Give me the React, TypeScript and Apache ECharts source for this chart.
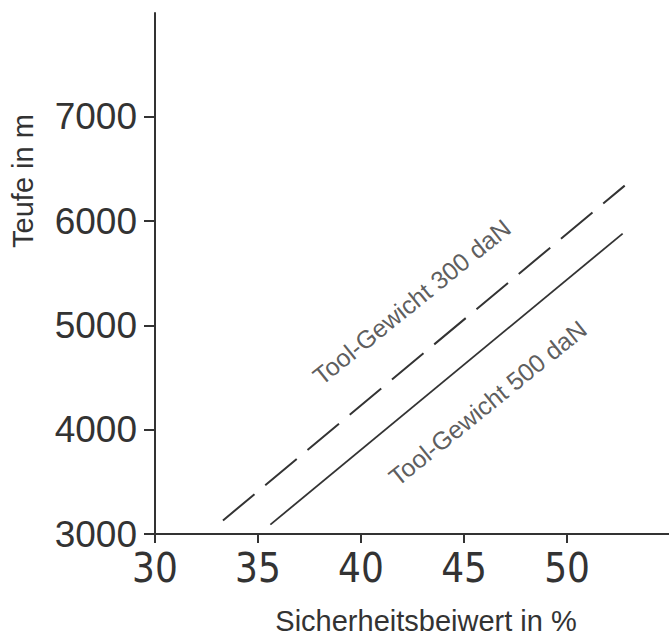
import React, { useEffect, useRef } from "react";
import * as echarts from "echarts";

// ---- data ----
const xTicks = [30, 35, 40, 45, 50];
const yTicks = [3000, 4000, 5000, 6000, 7000];
const seriesNames = ["Tool-Gewicht 300 daN", "Tool-Gewicht 500 daN"];
const line300X = [33.3, 52.8];
const line300Y = [3130, 6340];
const line500X = [35.6, 52.7];
const line500Y = [3090, 5880];
const label300Pos = [42.46, 5226];
const label500Pos = [46.14, 4257];
const xAxisName = "Sicherheitsbeiwert in %";
const yAxisName = "Teufe in m";

const INK = "#333333";

export default function App() {
  const ref = useRef<HTMLDivElement>(null);
  useEffect(() => {
    if (!ref.current) return;
    const chart = echarts.init(ref.current, undefined, { renderer: "svg" });
    const toPts = (xs: number[], ys: number[]) => xs.map((x, i) => [x, ys[i]]);
    chart.setOption({
      animation: false,
      backgroundColor: "#ffffff",
      grid: { left: 155, right: 0, top: 13, bottom: 105, containLabel: false, outerBoundsMode: "none" },
      xAxis: {
        type: "value",
        min: xTicks[0],
        max: 54.95,
        interval: 5,
        splitLine: { show: false },
        axisLine: { onZero: false, lineStyle: { color: INK, width: 2 } },
        axisTick: { show: true, customValues: xTicks, length: 9, lineStyle: { color: INK, width: 2 } },
        axisLabel: {
          margin: 14,
          color: INK,
          fontSize: 40,
          formatter: (v: number) => (xTicks.includes(v) ? String(v) : ""),
          fontFamily: "'Liberation Sans Narrow', 'DejaVu Sans Condensed', sans-serif",
        },
        name: xAxisName,
        nameLocation: "middle",
        nameGap: 72,
        nameMoveOverlap: false,
        nameTextStyle: {
          color: INK,
          fontSize: 29,
          fontFamily: "'Liberation Sans', Arial, sans-serif",
          padding: [0, 0, 0, 28],
        },
      },
      yAxis: {
        type: "value",
        min: yTicks[0],
        max: 7995,
        interval: 1000,
        splitLine: { show: false },
        axisLine: { onZero: false, lineStyle: { color: INK, width: 2 } },
        axisTick: { show: true, customValues: yTicks, length: 11, lineStyle: { color: INK, width: 2 } },
        axisLabel: {
          margin: 18,
          color: INK,
          fontSize: 37,
          formatter: (v: number) => (yTicks.includes(v) ? String(v) : ""),
          fontFamily: "'Liberation Sans', Arial, sans-serif",
        },
      },
      graphic: [
        {
          type: "text",
          x: 23,
          y: 181,
          rotation: Math.PI / 2,
          style: {
            text: yAxisName,
            fill: INK,
            fontSize: 29,
            fontFamily: "'Liberation Sans', Arial, sans-serif",
            align: "center",
            verticalAlign: "middle",
          },
        },
      ],
      series: [
        {
          name: seriesNames[0],
          type: "line",
          showSymbol: false,
          data: toPts(line300X, line300Y),
          lineStyle: { color: INK, width: 2, type: [41, 14] },
        },
        {
          name: seriesNames[1],
          type: "line",
          showSymbol: false,
          data: toPts(line500X, line500Y),
          lineStyle: { color: INK, width: 1.8, type: "solid" },
        },
        {
          name: "labels",
          type: "scatter",
          symbolSize: 0,
          silent: true,
          data: [
            { name: seriesNames[0], value: label300Pos },
            { name: seriesNames[1], value: label500Pos },
          ],
          label: {
            show: true,
            position: "inside",
            rotate: 39,
            formatter: (p: any) => p.name,
            color: INK,
            fontSize: 25,
            fontFamily: "'Liberation Sans', Arial, sans-serif",
          },
        },
      ],
    });
    return () => chart.dispose();
  }, []);
  return (
    <div
      ref={ref}
      style={{ position: "absolute", left: 0, top: 0, width: 669, height: 639 }}
    />
  );
}
